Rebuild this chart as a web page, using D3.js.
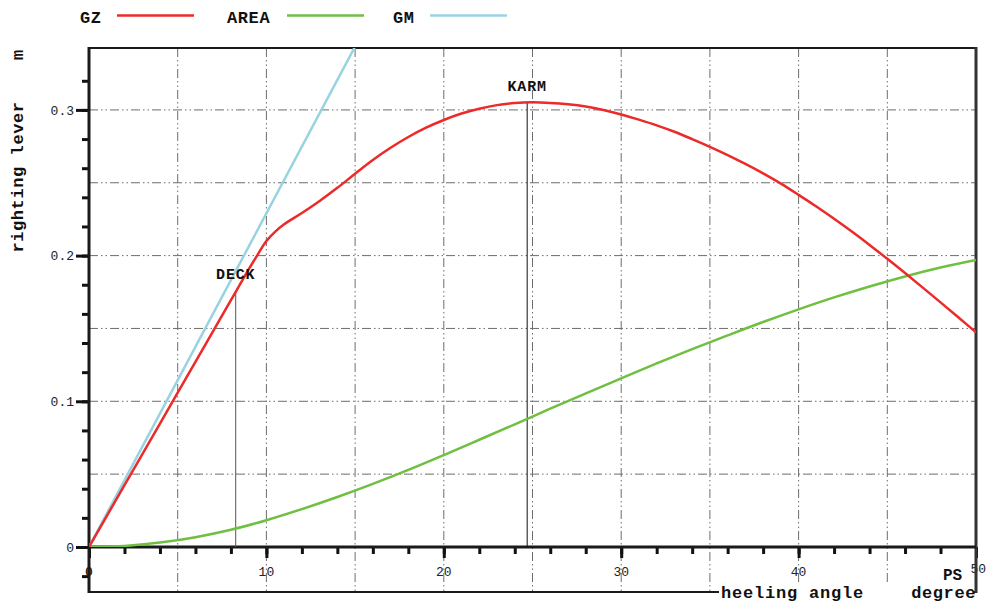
<!DOCTYPE html>
<html>
<head>
<meta charset="utf-8">
<script src="https://cdn.jsdelivr.net/npm/d3@7"></script>
<style>
  html, body { margin: 0; padding: 0; background: #fff; }
  svg { display: block; }
  text { font-family: "Liberation Mono", "DejaVu Sans Mono", monospace; }
</style>
</head>
<body>
<svg id="chart" width="986" height="604"></svg>
<script>
// Heeling angle samples (degrees)
const gzAngles = [0, 2, 4, 6, 8, 9, 9.5, 10, 10.5, 11, 12, 13, 14, 15, 16, 17, 18, 19, 20, 21, 22, 23, 24, 25, 26, 27, 28, 29, 30, 31, 32, 33, 34, 35, 36, 37, 38, 39, 40, 41, 42, 43, 44, 45, 46, 47, 48, 49, 50];
// Righting lever GZ (m)
const gzValues = [0, 0.0424, 0.0847, 0.1271, 0.1694, 0.1906, 0.2005, 0.2100, 0.2165, 0.2215, 0.2292, 0.2375, 0.2465, 0.2562, 0.2656, 0.2740, 0.2814, 0.2878, 0.2931, 0.2975, 0.3008, 0.3033, 0.3047, 0.3052, 0.3048, 0.3039, 0.3024, 0.3000, 0.2969, 0.2933, 0.2894, 0.2850, 0.2800, 0.2747, 0.2690, 0.2629, 0.2564, 0.2494, 0.2417, 0.2337, 0.2253, 0.2165, 0.2073, 0.1978, 0.1880, 0.1780, 0.1679, 0.1577, 0.1473];

// Area under the GZ curve (m·rad)
const areaAngles = [0, 2, 4, 6, 8, 10, 12, 14, 16, 18, 20, 22, 24, 26, 28, 30, 32, 34, 36, 38, 40, 42, 44, 46, 48, 50];
const areaValues = [0, 0.0007, 0.0030, 0.0067, 0.0118, 0.0184, 0.0260, 0.0343, 0.0433, 0.0529, 0.0631, 0.0736, 0.0842, 0.0949, 0.1054, 0.1158, 0.1260, 0.1358, 0.1452, 0.1544, 0.1631, 0.1713, 0.1788, 0.1857, 0.1918, 0.1970];

// Initial metacentric height tangent
const gmAngles = [0, 15];
const gmValues = [0, 0.3435];

// Marked angles: deck immersion and maximum lever
const markerNames = ["DECK", "KARM"];
const markerAngles = [8.27, 24.7];
const markerValues = [0.1752, 0.3052];

// Axis ticks
const xTickValues = [0, 10, 20, 30, 40, 50];
const xTickLabels = ["0", "10", "20", "30", "40", "50"];
const yTickValues = [0, 0.1, 0.2, 0.3];
const yTickLabels = ["0", "0.1", "0.2", "0.3"];

const seriesNames = ["GZ", "AREA", "GM"];
const seriesColors = ["#ec2a2a", "#6fbf40", "#97d3e0"];

const svg = d3.select("#chart");
const plotLeft = 89, plotRight = 976, plotTop = 48, plotBottom = 592;

const x = d3.scaleLinear().domain([0, 50]).range([plotLeft, plotRight]);
const y = d3.scaleLinear().domain([-0.0309, 0.3425]).range([plotBottom, plotTop]);

svg.append("defs").append("clipPath").attr("id", "plotClip")
  .append("rect").attr("x", plotLeft).attr("y", plotTop)
  .attr("width", plotRight - plotLeft).attr("height", y(0) - plotTop);

// dash-dot-dot grid
const gridDash = "9,3,1.5,3,1.5,3";
const grid = svg.append("g");
grid.selectAll("line.v").data(d3.range(5, 50, 5)).join("line")
  .attr("x1", d => x(d)).attr("x2", d => x(d))
  .attr("y1", plotTop).attr("y2", plotBottom)
  .attr("stroke", "#6d6d6d").attr("stroke-width", 1).attr("stroke-dasharray", gridDash);
grid.selectAll("line.h").data(d3.range(1, 7).map(i => i * 0.05)).join("line")
  .attr("x1", plotLeft).attr("x2", plotRight)
  .attr("y1", d => y(d)).attr("y2", d => y(d))
  .attr("stroke", "#6d6d6d").attr("stroke-width", 1).attr("stroke-dasharray", gridDash);

// x-axis ticks
const xMinor = svg.append("g").attr("transform", `translate(0,${y(0)})`)
  .call(d3.axisBottom(x).tickValues(d3.range(0, 51, 2)).tickSize(7).tickFormat(""));
const xMajor = svg.append("g").attr("transform", `translate(0,${y(0)})`)
  .call(d3.axisBottom(x).tickValues(xTickValues).tickSize(11).tickFormat(""));
[xMinor, xMajor].forEach(g => {
  g.select(".domain").remove();
  g.selectAll(".tick line").attr("stroke", "#111").attr("stroke-width", 3);
});

// y-axis ticks
const yMinor = svg.append("g").attr("transform", `translate(${plotLeft},0)`)
  .call(d3.axisLeft(y).tickValues(d3.range(-1, 17).map(i => i * 0.02)).tickSize(7).tickFormat(""));
const yMajor = svg.append("g").attr("transform", `translate(${plotLeft},0)`)
  .call(d3.axisLeft(y).tickValues(yTickValues).tickSize(13).tickFormat((d, i) => yTickLabels[i]).tickPadding(2));
[yMinor, yMajor].forEach(g => {
  g.select(".domain").remove();
  g.selectAll(".tick line").attr("stroke", "#111").attr("stroke-width", 3);
});
yMajor.selectAll(".tick text")
  .attr("font-family", "Liberation Mono, monospace").attr("font-size", 13).attr("fill", "#222");

// x tick labels (the last one sits against the right edge)
const lastTick = xTickValues.length - 1;
svg.append("g").selectAll("text").data(xTickValues).join("text")
  .attr("x", (d, i) => i === lastTick ? 986 : x(d))
  .attr("y", (d, i) => i === lastTick ? 573 : 576)
  .attr("text-anchor", (d, i) => i === lastTick ? "end" : "middle")
  .attr("font-size", 13)
  .attr("font-weight", (d, i) => i === 0 ? "bold" : "normal")
  .attr("fill", "#222")
  .text((d, i) => xTickLabels[i]);

// frame
const frame = svg.append("g").attr("fill", "none").attr("stroke", "#1a1a1a");
frame.append("line").attr("x1", plotLeft).attr("x2", plotRight).attr("y1", plotTop).attr("y2", plotTop).attr("stroke-width", 2);
frame.append("line").attr("x1", plotLeft).attr("x2", plotRight).attr("y1", plotBottom).attr("y2", plotBottom).attr("stroke-width", 2);
frame.append("line").attr("x1", plotRight).attr("x2", plotRight).attr("y1", plotTop - 1).attr("y2", plotBottom + 1).attr("stroke-width", 3).attr("stroke", "#333");
frame.append("line").attr("x1", plotLeft).attr("x2", plotLeft).attr("y1", plotTop - 1).attr("y2", plotBottom + 1).attr("stroke-width", 3);
frame.append("line").attr("x1", plotLeft).attr("x2", plotRight).attr("y1", y(0)).attr("y2", y(0)).attr("stroke-width", 3);

// marker verticals
svg.append("g").selectAll("line").data(markerAngles).join("line")
  .attr("x1", d => x(d)).attr("x2", d => x(d))
  .attr("y1", (d, i) => y(markerValues[i])).attr("y2", y(0))
  .attr("stroke", (d, i) => i === 0 ? "#555" : "#111").attr("stroke-width", 1);

// curves
const line = d3.line().x(d => x(d[0])).y(d => y(d[1])).curve(d3.curveCatmullRom.alpha(0.5));
const plot = svg.append("g").attr("clip-path", "url(#plotClip)");
plot.append("path").datum(areaAngles.map((a, i) => [a, areaValues[i]]))
  .attr("d", line).attr("fill", "none").attr("stroke", seriesColors[1]).attr("stroke-width", 2.5);
plot.append("path").datum(gmAngles.map((a, i) => [a, gmValues[i]]))
  .attr("d", d3.line().x(d => x(d[0])).y(d => y(d[1])))
  .attr("fill", "none").attr("stroke", seriesColors[2]).attr("stroke-width", 2.5);
plot.append("path").datum(gzAngles.map((a, i) => [a, gzValues[i]]))
  .attr("d", line).attr("fill", "none").attr("stroke", seriesColors[0]).attr("stroke-width", 2.5);

// marker labels
svg.append("g").selectAll("text").data(markerNames).join("text")
  .attr("x", (d, i) => x(markerAngles[i]))
  .attr("y", (d, i) => i === 0 ? 279 : 91)
  .attr("text-anchor", "middle")
  .attr("font-size", 15).attr("font-weight", "bold").attr("letter-spacing", 0.8).attr("fill", "#111")
  .text(d => d);

// axis titles
svg.append("rect").attr("x", 719).attr("y", 585).attr("width", 255).attr("height", 19).attr("fill", "#fff");
svg.append("text").attr("x", 721).attr("y", 598)
  .attr("font-size", 17).attr("font-weight", "bold").attr("letter-spacing", 0.8).attr("fill", "#111")
  .text("heeling angle");
svg.append("text").attr("x", 976).attr("y", 598).attr("text-anchor", "end")
  .attr("font-size", 17).attr("font-weight", "bold").attr("letter-spacing", 0.6).attr("fill", "#111")
  .text("degree");
svg.append("text").attr("x", 943).attr("y", 580)
  .attr("font-size", 16).attr("font-weight", "bold").attr("fill", "#111")
  .text("PS");
svg.append("text").attr("transform", "translate(23,177) rotate(-90)").attr("text-anchor", "middle")
  .attr("font-size", 17).attr("font-weight", "bold").attr("letter-spacing", 0.6).attr("fill", "#111")
  .text("righting lever");
svg.append("text").attr("transform", "translate(23,55) rotate(-90)").attr("text-anchor", "middle")
  .attr("font-size", 17).attr("font-weight", "bold").attr("fill", "#111")
  .text("m");

// legend
const legendTextX = [80, 227, 393];
const legendLineX = [117, 287, 430];
const legend = svg.append("g");
legend.selectAll("text").data(seriesNames).join("text")
  .attr("x", (d, i) => legendTextX[i]).attr("y", 23)
  .attr("font-size", 17).attr("font-weight", "bold").attr("letter-spacing", 0.6).attr("fill", "#111")
  .text(d => d);
legend.selectAll("line").data(seriesNames).join("line")
  .attr("x1", (d, i) => legendLineX[i]).attr("x2", (d, i) => legendLineX[i] + 77)
  .attr("y1", 15.5).attr("y2", 15.5)
  .attr("stroke", (d, i) => seriesColors[i]).attr("stroke-width", 2.5);
</script>
</body>
</html>
